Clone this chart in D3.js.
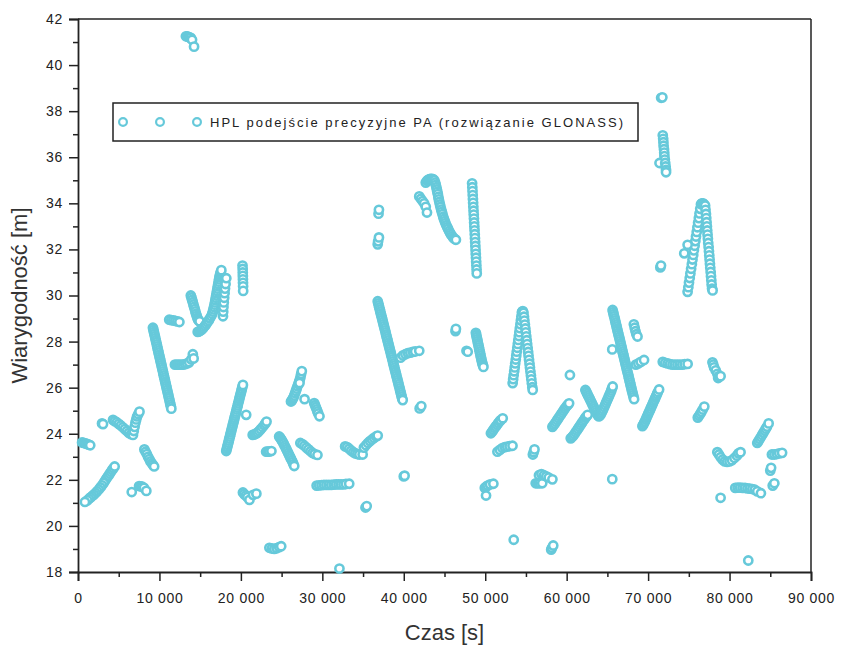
<!DOCTYPE html>
<html>
<head>
<meta charset="utf-8">
<script src="https://cdn.jsdelivr.net/npm/d3@7"></script>
<style>
  body { margin: 0; background: #fff; }
  text { font-family: "Liberation Sans", Arial, sans-serif; fill: #222; }
</style>
</head>
<body>
<div id="chart"></div>
<script>
// HPL values [czas s, wiarygodnosc m], grouped by time range
var hpl0to10k = [
  [500,23.62],[700,23.6],[900,23.58],[1100,23.56],[1300,23.53],[1500,23.5],
  [3300,21.95],[3450,22.03],[3600,22.11],[3750,22.19],[3900,22.27],[4050,22.35],[4200,22.43],[4350,22.5],[4500,22.58],
  [3150,21.86],[2950,21.76],[2750,21.67],[2550,21.58],[2350,21.5],[2150,21.43],[1950,21.36],[1750,21.3],[1550,21.24],[1350,21.18],[1150,21.11],[850,21.04],
  [2950,24.45],[3070,24.42],
  [4300,24.6],[4500,24.55],[4750,24.5],[5000,24.43],[5250,24.36],[5500,24.28],[5750,24.2],[6000,24.12],[6250,24.04],[6500,23.98],[6750,23.95],
  [6850,24.12],[6950,24.3],[7050,24.48],[7150,24.62],[7250,24.75],[7400,24.85],[7550,24.96],
  [8150,23.32],[8300,23.22],[8450,23.12],[8600,23.0],[8750,22.9],[8900,22.8],[9050,22.72],[9200,22.65],[9350,22.58],
  [6600,21.47],[7500,21.73],[7700,21.72],[7900,21.7],[8100,21.65],[8390,21.52],
  [9200,28.6],[9258,28.51],[9316,28.42],[9374,28.33],[9432,28.24],[9490,28.15],[9548,28.06],[9606,27.97],[9664,27.88],[9722,27.79],
  [9780,27.7],[9838,27.61],[9896,27.52],[9954,27.43],[10012,27.34],[10070,27.25],[10128,27.16],[10186,27.07],[10244,26.98],[10302,26.89],
  [10360,26.8],[10418,26.71],[10476,26.62],[10534,26.53],[10592,26.44],[10650,26.35],[10708,26.26],[10766,26.17],[10824,26.08],[10882,25.99],
  [10940,25.9],[10998,25.81],[11056,25.72],[11114,25.63],[11172,25.54],[11230,25.45],[11288,25.36],[11346,25.27],[11404,25.18],[11460,25.09]
];
var hpl10kto20k = [
  [11200,28.95],[11450,28.93],[11700,28.92],[11950,28.9],[12200,28.88],[12450,28.85],
  [11900,27.0],[12150,27.0],[12400,27.0],[12650,27.0],[12900,27.0],[13150,27.02],[13400,27.05],[13650,27.1],[13900,27.22],[14100,27.45],[14200,27.27],
  [13250,41.25],[13400,41.25],[13550,41.22],[13700,41.2],[13850,41.18],[14000,41.1],[14250,40.8],
  [13850,30.0],[13930,29.91],[14010,29.81],[14090,29.71],[14170,29.61],[14250,29.51],[14330,29.41],[14410,29.31],[14490,29.21],[14570,29.12],
  [14650,29.03],[14740,28.96],[14830,28.91],[14930,28.88],
  [14700,28.42],[14850,28.44],[15000,28.47],[15150,28.51],[15300,28.56],[15450,28.62],[15600,28.69],[15750,28.76],[15900,28.84],[16050,28.92],
  [16200,29.01],[16350,29.1],[16480,29.2],[16560,29.3],[16630,29.4],[16700,29.5],[16760,29.6],[16820,29.7],[16870,29.8],[16920,29.9],
  [16970,30.0],[17020,30.1],[17070,30.2],[17120,30.3],[17170,30.4],[17220,30.5],[17270,30.6],[17320,30.7],[17370,30.8],[17420,30.88],
  [17480,30.96],[17540,31.03],[17600,31.1],
  [17800,29.1],[17830,29.3],[17860,29.5],[17900,29.7],[17950,29.9],[18000,30.1],[18050,30.3],[18120,30.5],[18210,30.75],
  [20200,31.3],[20220,31.15],[20230,31.0],[20240,30.85],[20250,30.7],[20260,30.55],[20270,30.4],[20280,30.2],
  [18200,23.25],[18260,23.34],[18330,23.43],[18390,23.52],[18460,23.61],[18520,23.7],[18580,23.79],[18650,23.88],[18710,23.97],[18780,24.06],
  [18840,24.15],[18900,24.24],[18970,24.33],[19030,24.42],[19100,24.51],[19160,24.6],[19220,24.69],[19290,24.78],[19350,24.87],[19420,24.96],
  [19480,25.05],[19540,25.14],[19610,25.23],[19670,25.32],[19740,25.41],[19800,25.5],[19860,25.59],[19930,25.68],[19990,25.77],[20060,25.86],
  [20120,25.95],[20180,26.04],[20250,26.12],
  [20650,24.82]
];
var hpl20kto30k = [
  [21450,23.95],[21650,23.97],[21850,24.0],[22050,24.05],[22250,24.12],[22450,24.2],[22650,24.28],[22850,24.37],[23000,24.45],[23150,24.53],
  [23100,23.22],[23300,23.22],[23500,23.23],[23750,23.25],
  [24700,23.88],[24810,23.83],[24920,23.77],[25030,23.71],[25140,23.64],[25250,23.57],[25360,23.49],[25470,23.41],[25580,23.33],
  [25690,23.25],[25800,23.17],[25910,23.09],[26020,23.01],[26130,22.93],[26240,22.85],[26350,22.77],[26450,22.68],[26550,22.6],
  [20250,21.45],[20400,21.38],[20600,21.32],[20800,21.25],[21050,21.13],[21500,21.35],[21900,21.4],
  [23500,19.05],[23800,19.02],[24100,19.0],[24400,19.03],[24700,19.08],[24950,19.12],
  [26150,25.4],[26250,25.44],[26350,25.5],[26450,25.57],[26550,25.66],[26650,25.76],[26750,25.86],[26850,25.96],[26950,26.06],
  [27050,26.16],[27150,26.26],[27250,26.36],[27330,26.48],[27400,26.6],[27480,26.72],[27200,26.2],[27820,25.5],
  [29000,25.33],[29100,25.24],[29200,25.15],[29300,25.06],[29400,24.97],[29500,24.88],[29650,24.76],
  [27300,23.6],[27550,23.55],[27800,23.48],[28050,23.4],[28300,23.32],[28550,23.24],[28800,23.17],[29050,23.12],[29400,23.08],
  [29300,21.75],[29600,21.76],[29900,21.77],[30200,21.78],[30500,21.78],[30800,21.78],[31100,21.78],[31400,21.79],
  [31700,21.8],[32000,21.8],[32300,21.8],[32600,21.8],[32900,21.82],[33300,21.83],
  [32100,18.15]
];
var hpl30kto40k = [
  [32800,23.45],[33050,23.42],[33300,23.35],[33550,23.27],[33800,23.2],[34050,23.15],[34300,23.12],[34550,23.1],[34950,23.1],
  [35100,23.4],[35350,23.5],[35600,23.6],[35850,23.68],[36100,23.75],[36350,23.82],[36600,23.88],[36800,23.92],
  [35300,20.8],[35450,20.86],
  [36900,33.55],[36950,33.72],[36800,32.22],[36850,32.35],[36950,32.52],
  [36800,29.75],[36860,29.66],[36930,29.57],[36990,29.48],[37060,29.39],[37120,29.3],[37180,29.21],[37250,29.12],[37310,29.03],[37380,28.94],
  [37440,28.85],[37500,28.76],[37570,28.67],[37630,28.58],[37700,28.49],[37760,28.4],[37820,28.31],[37890,28.22],[37950,28.13],[38020,28.04],
  [38080,27.95],[38140,27.86],[38210,27.77],[38270,27.68],[38340,27.59],[38400,27.5],[38460,27.41],[38530,27.32],[38590,27.23],[38660,27.14],
  [38720,27.05],[38780,26.96],[38850,26.87],[38910,26.78],[38980,26.69],[39040,26.6],[39100,26.51],[39170,26.42],[39230,26.33],[39300,26.24],
  [39360,26.15],[39420,26.06],[39490,25.97],[39550,25.88],[39620,25.79],[39680,25.7],[39740,25.61],[39810,25.52],[39870,25.46],
  [39600,27.3],[39900,27.4],[40200,27.45],[40500,27.5],[40800,27.52],[41100,27.55],[41400,27.57],[41900,27.6],
  [40000,22.15],[40100,22.18]
];
var hpl40kto50k = [
  [41950,25.1],[42150,25.2],
  [41900,34.3],[42100,34.2],[42300,34.1],[42500,34.0],[42700,33.85],[42850,33.6],
  [42700,34.9],[42850,34.98],[43000,35.02],[43150,35.05],[43300,35.06],[43450,35.06],[43600,35.05],[43750,35.0],[43850,34.9],[43930,34.8],
  [44000,34.7],[44060,34.6],[44120,34.5],[44180,34.4],[44240,34.28],[44300,34.17],[44370,34.06],[44440,33.95],[44510,33.84],[44590,33.73],
  [44670,33.63],[44750,33.53],[44840,33.42],[44930,33.32],[45020,33.23],[45120,33.14],[45220,33.05],[45330,32.97],[45440,32.89],[45560,32.8],
  [45680,32.72],[45810,32.64],[45950,32.57],[46100,32.5],[46250,32.45],[46400,32.42],
  [48390,34.87],[48415,34.7],[48440,34.53],[48465,34.36],[48490,34.19],[48515,34.02],[48540,33.85],[48565,33.68],[48590,33.51],[48615,33.34],
  [48640,33.17],[48665,33.0],[48690,32.83],[48715,32.66],[48740,32.49],[48765,32.32],[48790,32.15],[48815,31.98],[48840,31.81],[48865,31.64],
  [48890,31.47],[48915,31.3],[48940,31.13],[48960,30.96],
  [46350,28.45],[46400,28.55],
  [47700,27.6],[47850,27.56],
  [48850,28.38],[48900,28.29],[48950,28.2],[49010,28.11],[49060,28.02],[49110,27.93],[49170,27.84],[49220,27.75],[49270,27.66],
  [49330,27.57],[49380,27.48],[49430,27.39],[49490,27.3],[49540,27.21],[49600,27.12],[49660,27.04],[49720,26.97],[49780,26.9],
  [49950,21.65],[50100,21.7],[50300,21.75],[50600,21.8],[51000,21.83],[50100,21.32]
];
var hpl50kto60k = [
  [50700,24.02],[50850,24.09],[51000,24.17],[51150,24.25],[51300,24.32],[51450,24.39],[51600,24.46],[51750,24.53],[51900,24.59],[52150,24.67],
  [51500,23.22],[51800,23.3],[52100,23.38],[52400,23.42],[52700,23.44],[53000,23.46],[53350,23.48],
  [55850,23.1],[55950,23.2],[56050,23.32],
  [56200,21.85],[56450,21.85],[56700,21.85],[57000,21.85],[56600,22.2],[56900,22.25],[57200,22.2],[57500,22.15],[57800,22.1],[58250,22.02],
  [53500,19.4],
  [58100,18.97],[58200,19.05],[58350,19.15],
  [53370,26.2],[53430,26.37],[53490,26.54],[53560,26.71],[53620,26.88],[53680,27.05],[53750,27.22],[53810,27.39],[53870,27.56],[53940,27.73],
  [54000,27.9],[54060,28.07],[54130,28.24],[54190,28.41],[54250,28.58],[54320,28.75],[54380,28.92],[54440,29.09],[54500,29.26],
  [54550,29.3],[54620,29.32],
  [54700,29.25],[54760,29.08],[54810,28.91],[54870,28.74],[54930,28.57],[54980,28.4],[55040,28.23],[55100,28.06],[55150,27.89],[55210,27.72],
  [55270,27.55],[55320,27.38],[55380,27.21],[55440,27.04],[55490,26.87],[55550,26.7],[55610,26.53],[55660,26.36],[55720,26.19],[55780,26.02],[55830,25.9],
  [58250,24.3],[58400,24.37],[58550,24.44],[58700,24.52],[58850,24.6],[59000,24.68],[59150,24.76],[59300,24.84],[59450,24.92],[59600,25.0],
  [59750,25.08],[59900,25.15],[60050,25.22],[60200,25.28],[60300,25.32]
];
var hpl60kto70k = [
  [60400,26.55],
  [60500,23.8],[60650,23.85],[60800,23.91],[60950,23.98],[61100,24.06],[61250,24.14],[61400,24.22],[61550,24.3],[61700,24.38],[61850,24.46],
  [62000,24.54],[62150,24.62],[62300,24.7],[62450,24.76],[62580,24.82],
  [62300,25.9],[62410,25.82],[62520,25.74],[62630,25.66],[62740,25.58],[62850,25.5],[62960,25.42],[63070,25.34],[63180,25.26],[63290,25.18],
  [63400,25.1],[63510,25.02],[63620,24.94],[63730,24.86],[63840,24.8],[63950,24.75],
  [64060,24.78],[64170,24.84],[64280,24.91],[64390,24.99],[64500,25.07],[64610,25.16],[64720,25.25],[64830,25.34],[64940,25.43],[65050,25.52],
  [65160,25.61],[65270,25.7],[65380,25.79],[65480,25.88],[65570,25.97],[65650,26.05],
  [65640,29.37],[65700,29.28],[65760,29.19],[65820,29.1],[65890,29.01],[65950,28.92],[66010,28.83],[66070,28.74],[66130,28.65],[66190,28.56],
  [66250,28.47],[66310,28.38],[66370,28.29],[66440,28.2],[66500,28.11],[66560,28.02],[66620,27.93],[66680,27.84],[66740,27.75],[66800,27.66],
  [66860,27.57],[66920,27.48],[66990,27.39],[67050,27.3],[67110,27.21],[67170,27.12],[67230,27.03],[67290,26.94],[67350,26.85],[67410,26.76],
  [67470,26.67],[67540,26.58],[67600,26.49],[67660,26.4],[67720,26.31],[67780,26.22],[67840,26.13],[67900,26.04],[67960,25.95],[68020,25.86],
  [68090,25.77],[68150,25.68],[68210,25.59],[68280,25.5],
  [68250,28.75],[68350,28.6],[68450,28.45],[68550,28.32],[68700,28.22],
  [65600,27.66],
  [68500,27.0],[68800,27.05],[69100,27.12],[69500,27.2],
  [65600,22.03],
  [69300,24.33],[69400,24.39],[69500,24.46],[69600,24.53],[69700,24.61],[69800,24.69],[69900,24.77],[70000,24.85],[70100,24.93],[70200,25.01],
  [70300,25.09],[70400,25.17],[70500,25.25],[70600,25.33],[70700,25.41],[70800,25.49],[70900,25.57],[71000,25.65],[71100,25.73],[71200,25.81],[71350,25.92]
];
var hpl70kto80k = [
  [71800,27.12],[72100,27.08],[72400,27.05],[72700,27.02],[73000,27.0],[73300,27.0],[73600,27.0],[73900,27.0],[74200,27.0],[74500,27.02],[74850,27.03],
  [71600,38.58],[71750,38.6],[71800,36.95],[71850,36.8],[71880,36.65],[71900,36.5],[71950,36.35],[71980,36.2],[72000,36.05],[72050,35.9],
  [71400,35.75],[72100,35.75],[72150,35.6],[72200,35.45],[72200,35.35],
  [71500,31.22],[71580,31.3],
  [74850,30.16],[74940,30.36],[75020,30.56],[75110,30.76],[75190,30.96],[75280,31.16],[75370,31.36],[75450,31.56],[75540,31.76],[75620,31.96],
  [75710,32.16],[75800,32.36],[75880,32.56],[75970,32.76],[76050,32.96],[76140,33.16],[76230,33.36],[76310,33.56],[76400,33.76],[76490,33.96],
  [76600,34.0],[76750,34.0],[76900,33.95],
  [77000,33.9],[77050,33.72],[77100,33.54],[77140,33.36],[77180,33.18],[77220,33.0],[77260,32.82],[77300,32.64],[77340,32.46],[77380,32.28],
  [77430,32.1],[77470,31.92],[77510,31.74],[77550,31.56],[77590,31.38],[77630,31.2],[77680,31.02],[77720,30.84],[77760,30.66],[77800,30.48],
  [77850,30.3],[77920,30.22],
  [74440,31.83],[74850,32.2],
  [77900,27.1],[78000,27.0],[78100,26.88],[78300,26.75],[78500,26.6],[78600,26.42],[78700,26.5],[78900,26.5],
  [76100,24.7],[76250,24.78],[76400,24.86],[76550,24.95],[76700,25.05],[76900,25.18],
  [78500,23.2],[78700,23.1],[78900,22.98],[79150,22.88],[79400,22.8],[79700,22.78],[80000,22.8],[80300,22.85],[80600,22.95],[80900,23.05],[81100,23.15],[81350,23.2],
  [78900,21.22],
  [80700,21.65],[81000,21.66],[81300,21.66],[81600,21.65],[81900,21.65],[82200,21.63],[82500,21.62],[82800,21.6],[83100,21.57],[83400,21.5],[83850,21.42],
  [82300,18.5]
];
var hpl80kto90k = [
  [83400,23.6],[83550,23.68],[83700,23.77],[83850,23.86],[84000,23.95],[84150,24.04],[84300,24.13],[84450,24.22],[84600,24.31],[84800,24.45],
  [85200,23.1],[85500,23.1],[85800,23.12],[86100,23.15],[86450,23.17],
  [85000,22.4],[85100,22.52],
  [85300,21.75],[85500,21.85]
];

var xTicks = [0, 10000, 20000, 30000, 40000, 50000, 60000, 70000, 80000, 90000];
var yTicks = [18, 20, 22, 24, 26, 28, 30, 32, 34, 36, 38, 40, 42];
var legendLabel = "HPL podejście precyzyjne PA (rozwiązanie GLONASS)";

var color = "#66c9da";
var margin = { left: 78, right: 30, top: 19, bottom: 73 };
var W = 841, H = 645;
var width = W - margin.left - margin.right;
var height = H - margin.top - margin.bottom;

var svg = d3.select("#chart").append("svg")
  .attr("width", W)
  .attr("height", H);

var g = svg.append("g")
  .attr("transform", "translate(" + margin.left + "," + margin.top + ")");

var x = d3.scaleLinear().domain([0, 90000]).range([0, width]);
var y = d3.scaleLinear().domain([18, 42]).range([height, 0]);

var fmt = d3.formatLocale({ decimal: ",", thousands: " ", grouping: [3], currency: ["", ""] }).format(",");

// frame top / right
g.append("line").attr("x1", 0).attr("x2", width).attr("y1", 0).attr("y2", 0)
  .attr("stroke", "#222").attr("stroke-width", 1.5);
g.append("line").attr("x1", width).attr("x2", width).attr("y1", 0).attr("y2", height)
  .attr("stroke", "#222").attr("stroke-width", 1.5);

// minor ticks
var xMinor = xTicks.slice(0, -1).map(function (d) { return d + 5000; });
var yMinor = yTicks.slice(0, -1).map(function (d) { return d + 1; });

g.append("g")
  .attr("transform", "translate(0," + height + ")")
  .call(d3.axisBottom(x).tickValues(xTicks).tickFormat(fmt).tickSize(9).tickPadding(12));
g.append("g")
  .attr("transform", "translate(0," + height + ")")
  .call(d3.axisBottom(x).tickValues(xMinor).tickFormat("").tickSize(5))
  .select(".domain").remove();

g.append("g")
  .call(d3.axisLeft(y).tickValues(yTicks).tickSize(9).tickPadding(6));
g.append("g")
  .call(d3.axisLeft(y).tickValues(yMinor).tickFormat("").tickSize(5))
  .select(".domain").remove();

g.selectAll(".domain").attr("stroke", "#222").attr("stroke-width", 1.8);
g.selectAll(".tick line").attr("stroke", "#222").attr("stroke-width", 1.5);
g.selectAll(".tick text")
  .attr("font-size", "14px")
  .attr("letter-spacing", "0.7px")
  .attr("font-family", "'Liberation Sans', Arial, sans-serif")
  .attr("fill", "#222");

// axis titles
svg.append("text")
  .attr("x", margin.left + width / 2)
  .attr("y", 640)
  .attr("text-anchor", "middle")
  .attr("font-size", "22px")
  .style("fill", "#333")
  .text("Czas [s]");

svg.append("text")
  .attr("transform", "translate(27," + (margin.top + height / 2) + ") rotate(-90)")
  .attr("text-anchor", "middle")
  .attr("font-size", "22px")
  .style("fill", "#333")
  .text("Wiarygodność [m]");

// points
var allPoints = [].concat(hpl0to10k, hpl10kto20k, hpl20kto30k, hpl30kto40k, hpl40kto50k,
  hpl50kto60k, hpl60kto70k, hpl70kto80k, hpl80kto90k);

g.append("g").selectAll("circle")
  .data(allPoints)
  .enter()
  .append("circle")
  .attr("cx", function (d) { return x(d[0]); })
  .attr("cy", function (d) { return y(d[1]); })
  .attr("r", 4.1)
  .attr("fill", "#fff")
  .attr("stroke", color)
  .attr("stroke-width", 2.6);

// legend
var leg = svg.append("g");
leg.append("rect")
  .attr("x", 113).attr("y", 103)
  .attr("width", 525).attr("height", 38)
  .attr("fill", "#fff")
  .attr("stroke", "#222")
  .attr("stroke-width", 1.5);
[123, 160, 197].forEach(function (cx) {
  leg.append("circle")
    .attr("cx", cx).attr("cy", 122)
    .attr("r", 3.9)
    .attr("fill", "#fff")
    .attr("stroke", color)
    .attr("stroke-width", 2.2);
});
leg.append("text")
  .attr("x", 210).attr("y", 127)
  .attr("font-size", "13px")
  .attr("textLength", 413)
  .attr("lengthAdjust", "spacing")
  .text(legendLabel);
</script>
</body>
</html>
